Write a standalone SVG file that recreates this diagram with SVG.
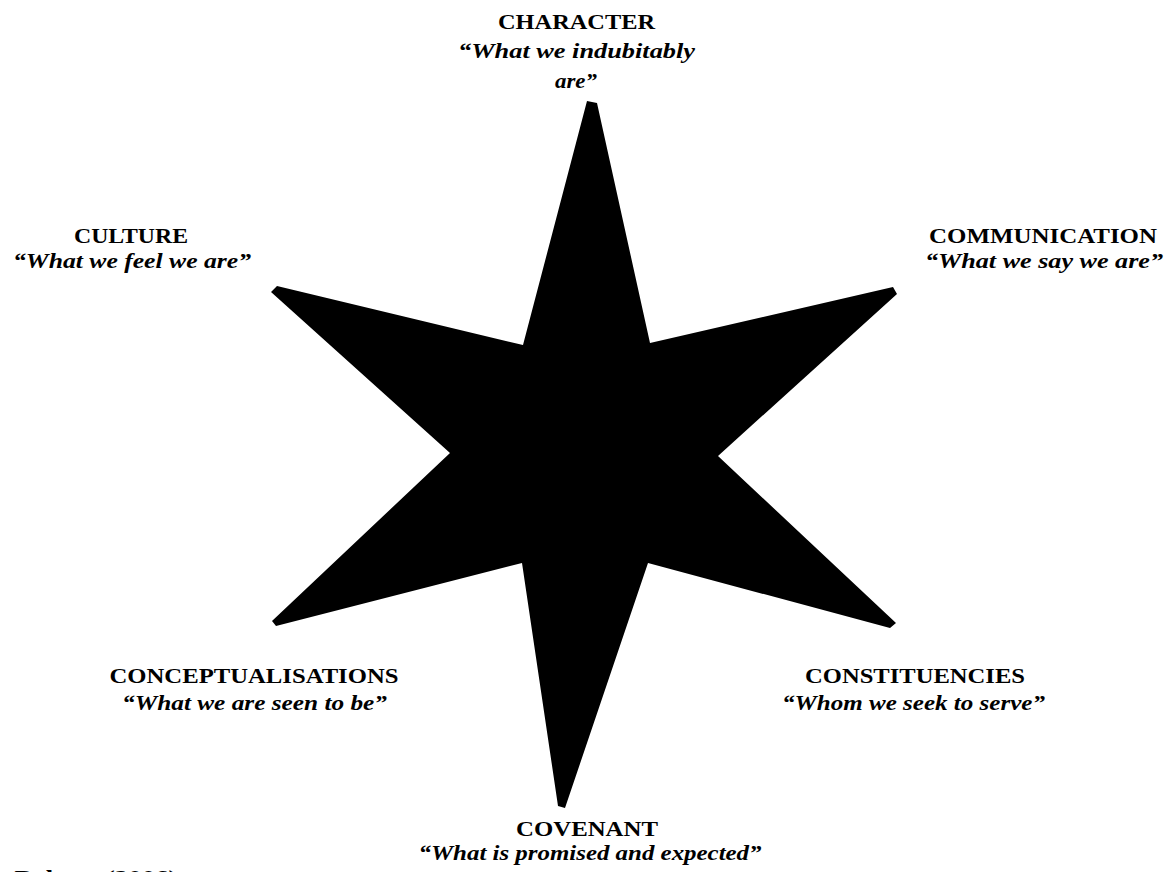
<svg xmlns="http://www.w3.org/2000/svg" width="1171" height="872" viewBox="0 0 1171 872">
<style>
.t{font-family:"Liberation Serif","DejaVu Serif",serif;font-weight:bold;font-size:22px;fill:#000;text-anchor:middle}
.s{font-family:"Liberation Serif","DejaVu Serif",serif;font-weight:bold;font-style:italic;font-size:22px;fill:#000;text-anchor:middle}
</style>
<rect width="1171" height="872" fill="#fff"/>
<g id="star">
<polygon fill="#000" points="587,101 597,103 650,343 893,287 897,294 718,456 896,623 890,628 648,563 565,808 558,806 522,563 276,626 272,621 450,453 271,292 277,286 523,345"/>
</g>
<g id="character">
<text class="t" x="576.5" y="29" textLength="157" lengthAdjust="spacingAndGlyphs">CHARACTER</text>
<text class="s" x="576.5" y="58" textLength="237" lengthAdjust="spacingAndGlyphs">“What we indubitably</text>
<text class="s" x="576" y="88" textLength="42" lengthAdjust="spacingAndGlyphs">are”</text>
</g>
<g id="culture">
<text class="t" x="131" y="243" textLength="114" lengthAdjust="spacingAndGlyphs">CULTURE</text>
<text class="s" x="132" y="268" textLength="238" lengthAdjust="spacingAndGlyphs">“What we feel we are”</text>
</g>
<g id="communication">
<text class="t" x="1043" y="243" textLength="228" lengthAdjust="spacingAndGlyphs">COMMUNICATION</text>
<text class="s" x="1044" y="268" textLength="238" lengthAdjust="spacingAndGlyphs">“What we say we are”</text>
</g>
<g id="conceptualisations">
<text class="t" x="254" y="683" textLength="289" lengthAdjust="spacingAndGlyphs">CONCEPTUALISATIONS</text>
<text class="s" x="254.5" y="710" textLength="265" lengthAdjust="spacingAndGlyphs">“What we are seen to be”</text>
</g>
<g id="constituencies">
<text class="t" x="915" y="683" textLength="220" lengthAdjust="spacingAndGlyphs">CONSTITUENCIES</text>
<text class="s" x="913.5" y="710" textLength="263" lengthAdjust="spacingAndGlyphs">“Whom we seek to serve”</text>
</g>
<g id="covenant">
<text class="t" x="587" y="836" textLength="142" lengthAdjust="spacingAndGlyphs">COVENANT</text>
<text class="s" x="590" y="860" textLength="343" lengthAdjust="spacingAndGlyphs">“What is promised and expected”</text>
</g>
<g id="source">
<text class="t" x="96" y="885" textLength="163" lengthAdjust="spacingAndGlyphs">Balmer (2006)</text>
</g>
<g id="connectors"></g>
</svg>
